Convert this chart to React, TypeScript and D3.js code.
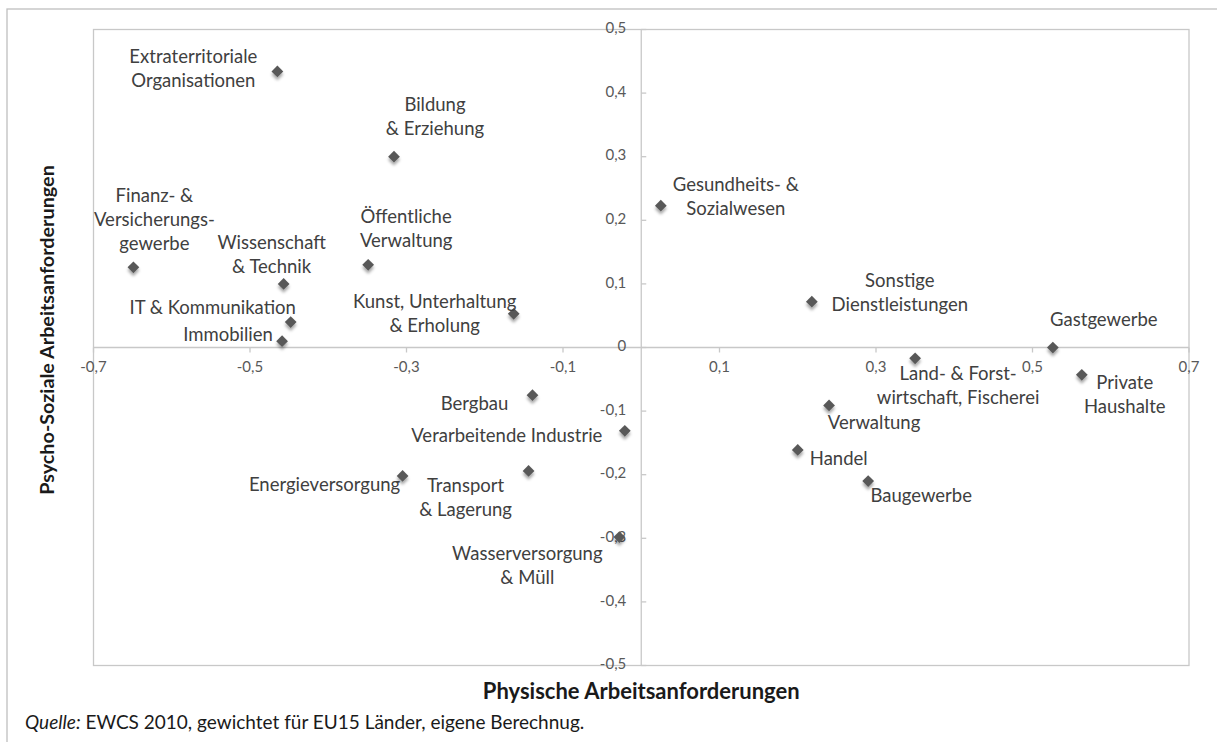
import React from "react";
import * as d3 from "d3";

// ---- Data ----
const sectorLabels: string[][] = [
  ["Extraterritoriale", "Organisationen"],
  ["Bildung", "& Erziehung"],
  ["Gesundheits- &", "Sozialwesen"],
  ["Finanz- &", "Versicherungs-", "gewerbe"],
  ["Wissenschaft", "& Technik"],
  ["Öffentliche", "Verwaltung"],
  ["IT & Kommunikation"],
  ["Immobilien"],
  ["Kunst, Unterhaltung", "& Erholung"],
  ["Sonstige", "Dienstleistungen"],
  ["Gastgewerbe"],
  ["Land- & Forst-", "wirtschaft, Fischerei"],
  ["Private", "Haushalte"],
  ["Verwaltung"],
  ["Handel"],
  ["Baugewerbe"],
  ["Bergbau"],
  ["Verarbeitende Industrie"],
  ["Energieversorgung"],
  ["Transport", "& Lagerung"],
  ["Wasserversorgung", "& Müll"],
];

const physical: number[] = [
  -0.465, -0.316, 0.025, -0.649, -0.457, -0.349, -0.448, -0.459, -0.163, 0.218,
  0.526, 0.35, 0.563, 0.24, 0.2, 0.29, -0.139, -0.021, -0.305, -0.144, -0.028,
];

const psychosocial: number[] = [
  0.434, 0.3, 0.223, 0.126, 0.1, 0.13, 0.04, 0.01, 0.053, 0.072,
  0.0, -0.017, -0.043, -0.091, -0.161, -0.21, -0.075, -0.131, -0.202, -0.194, -0.298,
];

const xTickValues: number[] = [-0.7, -0.5, -0.3, -0.1, 0.1, 0.3, 0.5, 0.7];
const yTickValues: number[] = [0.5, 0.4, 0.3, 0.2, 0.1, 0, -0.1, -0.2, -0.3, -0.4, -0.5];

const xTitle = "Physische Arbeitsanforderungen";
const yTitle = "Psycho-Soziale Arbeitsanforderungen";
const sourceItalic = "Quelle:";
const sourceRest = " EWCS 2010, gewichtet für EU15 Länder, eigene Berechnug.";

// ---- Layout (label placement relative to marker, pixels) ----
const labelOffsets: [number, number][] = [
  [-84, -13], [41, -50], [75, -19], [21, -70], [-12, -40], [38, -47], [-78, -13],
  [-54, -5], [-79, -10], [88, -19], [51, -26], [43, 17], [43, 9], [45, 19],
  [41, 10], [53, 16], [-58, 10], [-118, 6], [-78, 10], [-63, 16], [-92, 18],
];

const W = 1217;
const H = 742;
const plot = { left: 93.5, right: 1189, top: 29.5, bottom: 665.5 };
const FONT = "Lato, 'Open Sans', sans-serif";
const fmt = (v: number) => (v === 0 ? "0" : d3.format(".1f")(v).replace(".", ",").replace("−", "-"));

export default function App() {
  const x = d3.scaleLinear().domain([-0.7, 0.7]).range([plot.left, plot.right]);
  const y = d3.scaleLinear().domain([-0.5, 0.5]).range([plot.bottom, plot.top]);
  const x0 = x(0);
  const y0 = y(0);
  const lineH = 24;
  const diamond = d3.symbol().type(d3.symbolDiamond2).size(88)();

  return (
    <div style={{ position: "absolute", left: 0, top: 0 }}>
      <svg width={W} height={H} style={{ display: "block", background: "#fff" }}>
        <defs>
          <filter id="shadow" x="-100%" y="-100%" width="300%" height="300%">
            <feDropShadow dx="0" dy="3" stdDeviation="1.6" floodColor="#000" floodOpacity="0.35" />
          </filter>
        </defs>
        {/* outer chart border */}
        <rect x={7} y={9} width={W + 20} height={H + 20} fill="#fff" stroke="#bfbfbf" strokeWidth={1.3} />
        {/* plot area border */}
        <rect
          x={plot.left}
          y={plot.top}
          width={plot.right - plot.left}
          height={plot.bottom - plot.top}
          fill="none"
          stroke="#c8c8c8"
          strokeWidth={1.3}
        />
        {/* axes */}
        <line x1={plot.left} x2={plot.right} y1={y0} y2={y0} stroke="#c8c8c8" strokeWidth={1.3} />
        <line x1={x0} x2={x0} y1={plot.top} y2={plot.bottom} stroke="#c8c8c8" strokeWidth={1.3} />
        {xTickValues.map((v) => (
          <g key={"xt" + v}>
            <line x1={x(v)} x2={x(v)} y1={y0} y2={y0 + 5} stroke="#c8c8c8" strokeWidth={1.3} />
            <text
              x={x(v)}
              y={y0 + 21}
              textAnchor="middle"
              dominantBaseline="middle"
              fontFamily={FONT}
              fontSize={15}
              fill="#595959"
            >
              {fmt(v)}
            </text>
          </g>
        ))}
        {yTickValues.map((v) => (
          <g key={"yt" + v}>
            <line x1={x0} x2={x0 + 5} y1={y(v)} y2={y(v)} stroke="#c8c8c8" strokeWidth={1.3} />
            <text
              x={x0 - 15}
              y={y(v)}
              textAnchor="end"
              dominantBaseline="middle"
              fontFamily={FONT}
              fontSize={15}
              fill="#595959"
            >
              {fmt(v)}
            </text>
          </g>
        ))}
        {/* markers */}
        {physical.map((px, i) => (
          <path
            key={"m" + i}
            d={diamond as string}
            transform={`translate(${x(px)},${y(psychosocial[i])})`}
            fill="#595959"
            filter="url(#shadow)"
          />
        ))}
        {/* data labels */}
        {sectorLabels.map((lines, i) => {
          const cx = x(physical[i]) + labelOffsets[i][0];
          const cy = y(psychosocial[i]) + labelOffsets[i][1];
          return (
            <text
              key={"l" + i}
              textAnchor="middle"
              fontFamily={FONT}
              fontSize={18.5}
              fill="#404040"
            >
              {lines.map((ln, j) => (
                <tspan key={j} x={cx} y={cy + j * lineH} dominantBaseline="middle">
                  {ln}
                </tspan>
              ))}
            </text>
          );
        })}
        {/* axis titles */}
        <text
          x={x0}
          y={693}
          textAnchor="middle"
          dominantBaseline="middle"
          fontFamily={FONT}
          fontWeight="bold"
          fontSize={22}
          fill="#1a1a1a"
        >
          {xTitle}
        </text>
        <text
          transform={`translate(49,330) rotate(-90)`}
          textAnchor="middle"
          dominantBaseline="middle"
          fontFamily={FONT}
          fontWeight="bold"
          fontSize={19.8}
          fill="#1a1a1a"
        >
          {yTitle}
        </text>
        {/* source */}
        <text x={25} y={724} dominantBaseline="middle" fontFamily={FONT} fontSize={19} fill="#1a1a1a">
          <tspan fontStyle="italic">{sourceItalic}</tspan>
          <tspan>{sourceRest}</tspan>
        </text>
      </svg>
    </div>
  );
}
